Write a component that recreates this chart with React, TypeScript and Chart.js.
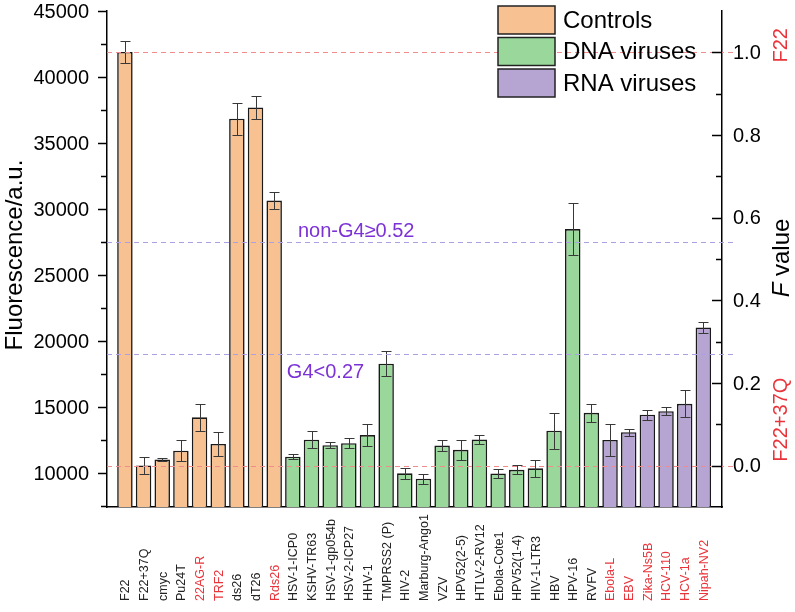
import React, { useEffect, useRef } from "react";
import { Chart, registerables } from "chart.js";

Chart.register(...registerables);

const categories = [
  "F22", "F22+37Q", "cmyc", "Pu24T", "22AG-R", "TRF2", "ds26", "dT26", "Rds26",
  "HSV-1-ICP0", "KSHV-TR63", "HSV-1-gp054b", "HSV-2-ICP27", "HHV-1", "TMPRSS2 (P)", "HIV-2",
  "Marburg-Ango1", "VZV", "HPV52(2-5)", "HTLV-2-RV12", "Ebola-Cote1", "HPV52(1-4)", "HIV-1-LTR3",
  "HBV", "HPV-16", "RVFV",
  "Ebola-L", "EBV", "Zika-Ns5B", "HCV-110", "HCV-1a", "Nipah-NV2",
];
// 0 = Controls, 1 = DNA viruses, 2 = RNA viruses
const groupOf = [
  0, 0, 0, 0, 0, 0, 0, 0, 0,
  1, 1, 1, 1, 1, 1, 1, 1, 1, 1, 1, 1, 1, 1, 1, 1, 1,
  2, 2, 2, 2, 2, 2,
];
const fluorescence = [
  41900, 10600, 11050, 11720, 14240, 12230, 36850, 37700, 30650,
  11260, 12550, 12130, 12280, 12900, 18300, 10000, 9590, 12100, 11780, 12560, 9980, 10270, 10380,
  13230, 28490, 14580,
  12530, 13110, 14440, 14700, 15260, 21050,
];
const errors = [
  800, 630, 90, 820, 1010, 890, 1200, 850, 650,
  200, 660, 220, 390, 830, 930, 390, 370, 400, 760, 370, 360, 340, 625,
  1360, 1990, 680,
  1210, 250, 380, 290, 1020, 430,
];
const redLabels = ["22AG-R", "TRF2", "Rds26", "Ebola-L", "EBV", "Zika-Ns5B", "HCV-110", "HCV-1a", "Nipah-NV2"];
const seriesNames = ["Controls", "DNA viruses", "RNA viruses"];

const leftTicks = [10000, 15000, 20000, 25000, 30000, 35000, 40000, 45000];
const leftMinorTicks = [7500, 12500, 17500, 22500, 27500, 32500, 37500, 42500];
const rightTicks = [0.0, 0.2, 0.4, 0.6, 0.8, 1.0];
const rightMinorTicks = [0.1, 0.3, 0.5, 0.7, 0.9];
const leftRange = [7453, 45000];
const rightRange = [-0.1, 1.1];
const refLinesF = [1.0, 0.0]; // F22, F22+37Q
const thresholdLinesF = [0.27, 0.54];
const thresholdTexts = ["G4<0.27", "non-G4\u22650.52"];

const FONT = "'Liberation Sans', Arial, sans-serif";
const COLORS = ["#F8C191", "#99D79A", "#B6A5D3"];
const RED = "#E8343A";
const PURPLE = "#7C33D6";

const customPlugin = {
  id: "customDraw",
  afterDatasetsDraw(chart: any) {
    const { ctx, chartArea: ca, scales } = chart;
    const x = scales.x, y = scales.y, y1 = scales.y1;
    ctx.save();
    // error bars
    ctx.strokeStyle = "#383838";
    ctx.lineWidth = 1;
    fluorescence.forEach((v, i) => {
      const px = Math.round(x.getPixelForValue(i)) + 0.5;
      const top = Math.round(y.getPixelForValue(v + errors[i])) + 0.5;
      const bot = Math.round(y.getPixelForValue(v - errors[i])) + 0.5;
      ctx.beginPath();
      ctx.moveTo(px, top); ctx.lineTo(px, bot);
      ctx.moveTo(px - 5, top); ctx.lineTo(px + 5, top);
      ctx.moveTo(px - 5, bot); ctx.lineTo(px + 5, bot);
      ctx.stroke();
    });
    // dashed reference lines
    ctx.setLineDash([5, 4]);
    ctx.lineWidth = 1;
    ctx.strokeStyle = "#F08C8C";
    refLinesF.forEach((f) => {
      const py = Math.round(y1.getPixelForValue(f)) + 0.5;
      ctx.beginPath(); ctx.moveTo(ca.left, py); ctx.lineTo(ca.right + 12, py); ctx.stroke();
    });
    ctx.strokeStyle = "#ABA0E4";
    thresholdLinesF.forEach((f) => {
      const py = Math.round(y1.getPixelForValue(f)) + 0.5;
      ctx.beginPath(); ctx.moveTo(ca.left, py); ctx.lineTo(ca.right + 12, py); ctx.stroke();
    });
    ctx.setLineDash([]);
    // threshold texts
    ctx.fillStyle = PURPLE;
    ctx.font = `20px ${FONT}`;
    ctx.textAlign = "left";
    ctx.textBaseline = "middle";
    ctx.fillText(thresholdTexts[0], x.getPixelForValue(8.68), y1.getPixelForValue(thresholdLinesF[0]) + 18);
    ctx.fillText(thresholdTexts[1], x.getPixelForValue(9.27), y1.getPixelForValue(thresholdLinesF[1]) - 11);
    ctx.restore();
  },
  afterDraw(chart: any) {
    const { ctx, chartArea: ca, scales } = chart;
    const x = scales.x, y = scales.y, y1 = scales.y1;
    ctx.save();
    ctx.strokeStyle = "#000";
    ctx.lineWidth = 1.5;
    // left ticks (outward)
    leftTicks.forEach((v) => {
      const py = Math.round(y.getPixelForValue(v)) + 0.5;
      ctx.beginPath(); ctx.moveTo(ca.left - 9, py); ctx.lineTo(ca.left, py); ctx.stroke();
    });
    leftMinorTicks.forEach((v) => {
      const py = Math.round(y.getPixelForValue(v)) + 0.5;
      ctx.beginPath(); ctx.moveTo(ca.left - 6, py); ctx.lineTo(ca.left, py); ctx.stroke();
    });
    // right ticks (inward)
    rightTicks.forEach((v) => {
      const py = Math.round(y1.getPixelForValue(v)) + 0.5;
      ctx.beginPath(); ctx.moveTo(ca.right - 10, py); ctx.lineTo(ca.right, py); ctx.stroke();
    });
    rightMinorTicks.forEach((v) => {
      const py = Math.round(y1.getPixelForValue(v)) + 0.5;
      ctx.beginPath(); ctx.moveTo(ca.right - 6, py); ctx.lineTo(ca.right, py); ctx.stroke();
    });
    // tick labels
    ctx.fillStyle = "#000";
    ctx.font = `20px ${FONT}`;
    ctx.textBaseline = "middle";
    ctx.textAlign = "right";
    leftTicks.forEach((v) => {
      ctx.fillText(String(v), ca.left - 18, y.getPixelForValue(v) + 1);
    });
    ctx.textAlign = "left";
    rightTicks.forEach((v) => {
      ctx.fillText(v.toFixed(1), ca.right + 11, y1.getPixelForValue(v) + 1);
    });
    // category labels
    ctx.font = `12.5px ${FONT}`;
    ctx.textAlign = "left";
    ctx.textBaseline = "middle";
    categories.forEach((c, i) => {
      const px = x.getPixelForValue(i) + 1;
      ctx.save();
      ctx.translate(px, 601);
      ctx.rotate(-Math.PI / 2);
      ctx.fillStyle = redLabels.includes(c) ? RED : "#222";
      ctx.fillText(c, 0, 0);
      ctx.restore();
    });
    // rotated titles
    const drawRotated = (cx: number, cy: number, parts: { t: string; f: string; c: string }[]) => {
      ctx.save();
      ctx.translate(cx, cy);
      ctx.rotate(-Math.PI / 2);
      ctx.textBaseline = "middle";
      ctx.textAlign = "left";
      let total = 0;
      parts.forEach((p) => { ctx.font = p.f; total += ctx.measureText(p.t).width; });
      let pos = -total / 2;
      parts.forEach((p) => {
        ctx.font = p.f; ctx.fillStyle = p.c;
        ctx.fillText(p.t, pos, 0);
        pos += ctx.measureText(p.t).width;
      });
      ctx.restore();
    };
    drawRotated(15, 255, [{ t: "Fluorescence/a.u.", f: `24px ${FONT}`, c: "#000" }]);
    drawRotated(ca.right + 60, 258, [
      { t: "F", f: `italic 24px ${FONT}`, c: "#000" },
      { t: " value", f: `24px ${FONT}`, c: "#000" },
    ]);
    drawRotated(ca.right + 59, y1.getPixelForValue(1.0) - 7, [{ t: "F22", f: `20px ${FONT}`, c: RED }]);
    drawRotated(ca.right + 59, y1.getPixelForValue(0.0) - 46, [{ t: "F22+37Q", f: `20px ${FONT}`, c: RED }]);
    // legend
    ctx.font = `24px ${FONT}`;
    ctx.textAlign = "left";
    ctx.textBaseline = "middle";
    seriesNames.forEach((n, k) => {
      const top = 6 + k * 31.5;
      ctx.fillStyle = COLORS[k];
      ctx.fillRect(498, top, 57, 28);
      ctx.lineWidth = 1.5;
      ctx.strokeStyle = "#222";
      ctx.strokeRect(498, top, 57, 28);
      ctx.fillStyle = "#000";
      ctx.fillText(n, 563, top + 15);
    });
    ctx.restore();
  },
};

export default function App() {
  const canvasRef = useRef<HTMLCanvasElement | null>(null);

  useEffect(() => {
    if (!canvasRef.current) return;
    const datasets = seriesNames.map((name, g) => ({
      label: name,
      data: fluorescence
        .map((v, i) => ({ x: i, y: v, g: groupOf[i] }))
        .filter((p) => p.g === g)
        .map((p) => ({ x: p.x, y: p.y })),
      backgroundColor: COLORS[g],
      borderColor: "#1a1a1a",
      borderWidth: 1.6,
      borderSkipped: false as any,
      barPercentage: 0.83,
      categoryPercentage: 1,
      grouped: false,
      yAxisID: "y",
    }));
    const chart = new Chart(canvasRef.current, {
      type: "bar",
      data: { datasets: datasets as any },
      options: {
        animation: false,
        responsive: false,
        layout: { padding: { left: 0, right: 0, top: 11, bottom: 0 } },
        plugins: { legend: { display: false }, tooltip: { enabled: false } },
        scales: {
          x: {
            type: "linear",
            offset: false,
            min: -0.96,
            max: 32.0,
            grid: { display: false, offset: false },
            border: { display: true, color: "#000", width: 1.5 },
            ticks: { display: false },
            afterFit: (s: any) => { s.height = 105; s.paddingLeft = 0; s.paddingRight = 0; },
          },
          y: {
            type: "linear",
            position: "left",
            min: leftRange[0],
            max: leftRange[1],
            grid: { display: false, drawTicks: false },
            border: { display: true, color: "#000", width: 1.5 },
            ticks: { display: false },
            afterFit: (s: any) => { s.width = 107; s.paddingTop = 0; s.paddingBottom = 0; },
          },
          y1: {
            type: "linear",
            position: "right",
            min: rightRange[0],
            max: rightRange[1],
            grid: { display: false, drawTicks: false },
            border: { display: true, color: "#000", width: 1.5 },
            ticks: { display: false },
            afterFit: (s: any) => { s.width = 73; s.paddingTop = 0; s.paddingBottom = 0; },
          },
        },
      },
      plugins: [customPlugin],
    });
    return () => chart.destroy();
  }, []);

  return (
    <div style={{ position: "fixed", left: 0, top: 0, width: 795, height: 612, background: "#fff" }}>
      <canvas ref={canvasRef} width={795} height={612} />
    </div>
  );
}
